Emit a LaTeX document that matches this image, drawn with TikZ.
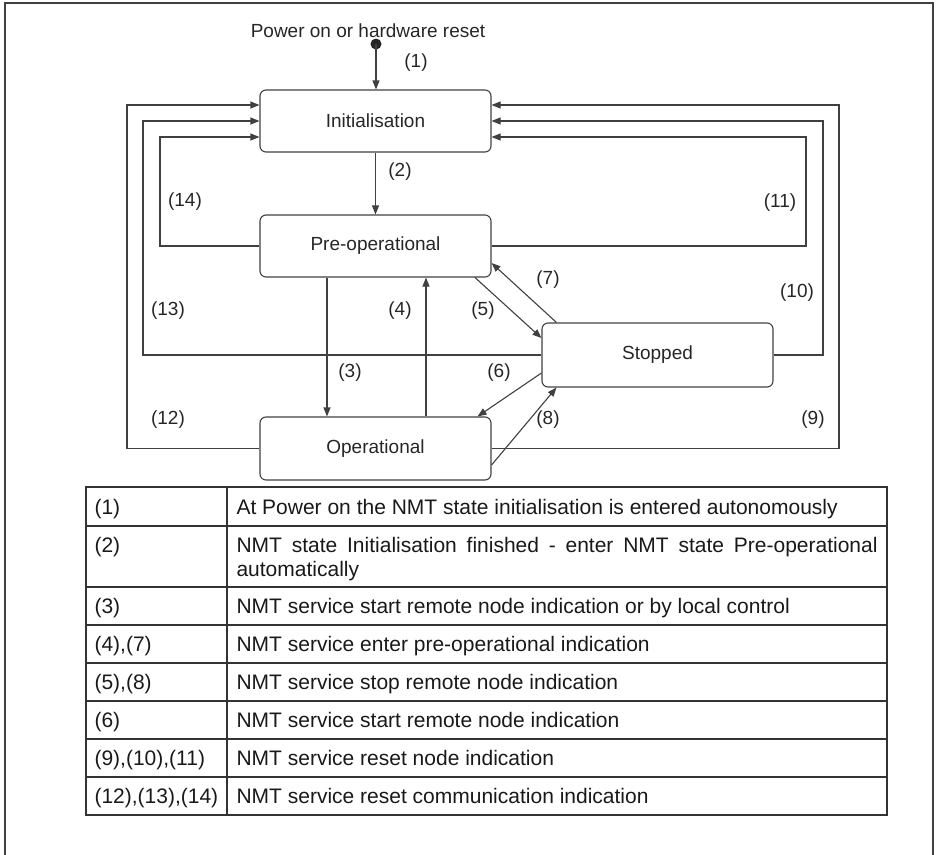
\documentclass[tikz,border=0pt]{standalone}
\usepackage{fontspec}
\setmainfont{Liberation Sans}
\usetikzlibrary{arrows.meta}
\begin{document}
\begin{tikzpicture}[x=1pt,y=-1pt,
  line width=1.1pt, draw=black!75,
  state/.style={draw=black!75, rounded corners=6pt, minimum width=231pt, minimum height=62pt, inner sep=0pt, font=\fontsize{19}{23}\selectfont, text=black!85},
  lbl/.style={inner sep=0pt, font=\fontsize{19}{23}\selectfont, text=black!85},
  tcell/.style={inner sep=0pt, anchor=base west, font=\fontsize{21}{24}\selectfont, text=black!90},
  arr/.style={draw=black!75, -{Triangle[length=9pt,width=7pt]}},
  tline/.style={draw=black!80, line width=1.4pt}
]
\useasboundingbox (0,0) rectangle (936,854);
% outer frame
\draw[draw=black!75, line width=1.2pt] (5,860) -- (5,3) -- (933,3) -- (933,860);

% states
\node[state] (init) at (375.5,121) {Initialisation};
\node[state] (pre)  at (375.5,246) {Pre-operational};
\node[state, minimum height=63pt] (op) at (375.5,448.5) {Operational};
\node[state, minimum height=64pt] (stop) at (657.5,355) {Stopped};

% start
\node[lbl] (power) at (368,31) {Power on or hardware reset};
\fill[black!85] (376,44) circle (5.5pt);
\coordinate (dot) at (376,44);
\draw[arr] (dot) -- (init.north -| dot);

% column coordinates
\coordinate (xL1) at (127,0);
\coordinate (xL2) at (143,0);
\coordinate (xL3) at (160,0);
\coordinate (xR1) at (839,0);
\coordinate (xR2) at (823,0);
\coordinate (xR3) at (806,0);

% transitions
\draw[arr] (init.south) -- (pre.north);
\coordinate (a3) at ([xshift=-48.5pt]pre.south);
\draw[arr] (a3) -- (op.north -| a3);
\coordinate (a4) at ([xshift=50.5pt]op.north);
\draw[arr] (a4) -- (pre.south -| a4);
\draw[arr] ([xshift=99.5pt]pre.south) -- ([yshift=17pt]stop.west);
\draw[arr] ([xshift=15pt]stop.north west) -- ([yshift=-17pt]pre.east);
\draw[arr] ([yshift=-18pt]stop.west) -- ([xshift=-14pt]op.north east);
\draw[arr] ([yshift=-16.5pt]op.east) -- ([xshift=15pt]stop.south west);

% reset loops
\draw[arr] (op.west) -- (op.west -| xL1) |- ([yshift=16pt]init.west);
\draw[arr] (stop.west) -- (stop.west -| xL2) |- (init.west);
\draw[arr] (pre.west) -- (pre.west -| xL3) |- ([yshift=-16pt]init.west);
\draw[arr] (pre.east) -- (pre.east -| xR3) |- ([yshift=-16pt]init.east);
\draw[arr] (stop.east) -- (stop.east -| xR2) |- (init.east);
\draw[arr] (op.east) -- (op.east -| xR1) |- ([yshift=16pt]init.east);

% labels
\node[lbl] (l1) at (416,63) {(1)};
\node[lbl] (l2) at (400,172) {(2)};
\node[lbl] (l3) at (350,373) {(3)};
\node[lbl] (l4) at (400,311) {(4)};
\node[lbl] (l5) at (483,311) {(5)};
\node[lbl] (l6) at (499,373) {(6)};
\node[lbl] (l7) at (548,280) {(7)};
\node[lbl] (l8) at (548,420) {(8)};
\node[lbl] (l9) at (813,420) {(9)};
\node[lbl] (l10) at (797,293) {(10)};
\node[lbl] (l11) at (780,203) {(11)};
\node[lbl] (l12) at (168,420) {(12)};
\node[lbl] (l13) at (168,311) {(13)};
\node[lbl] (l14) at (185,202) {(14)};

% table
\draw[tline] (86,487) rectangle (887,815);
\draw[tline] (227,487) -- (227,815);
\foreach \yy in {526,587,625,663,701,739,777} \draw[tline] (86,\yy) -- (887,\yy);

\node[tcell] (c1a) at (94,514) {(1)};
\node[tcell] (c1b) at (236,514) {At Power on the NMT state initialisation is entered autonomously};
\node[tcell] (c2a) at (94,552) {(2)};
\node[tcell, text width=641pt, align=justify] (c2b) at (236,552) {NMT state Initialisation finished - enter NMT state Pre-operational\linebreak automatically};
\node[tcell] (c3a) at (94,613.5) {(3)};
\node[tcell] (c3b) at (236,613.5) {NMT service start remote node indication or by local control};
\node[tcell] (c4a) at (94,651.5) {(4),(7)};
\node[tcell] (c4b) at (236,651.5) {NMT service enter pre-operational indication};
\node[tcell] (c5a) at (94,689.5) {(5),(8)};
\node[tcell] (c5b) at (236,689.5) {NMT service stop remote node indication};
\node[tcell] (c6a) at (94,727.5) {(6)};
\node[tcell] (c6b) at (236,727.5) {NMT service start remote node indication};
\node[tcell] (c7a) at (94,765.5) {(9),(10),(11)};
\node[tcell] (c7b) at (236,765.5) {NMT service reset node indication};
\node[tcell] (c8a) at (94,803.5) {(12),(13),(14)};
\node[tcell] (c8b) at (236,803.5) {NMT service reset communication indication};
\end{tikzpicture}
\end{document}
